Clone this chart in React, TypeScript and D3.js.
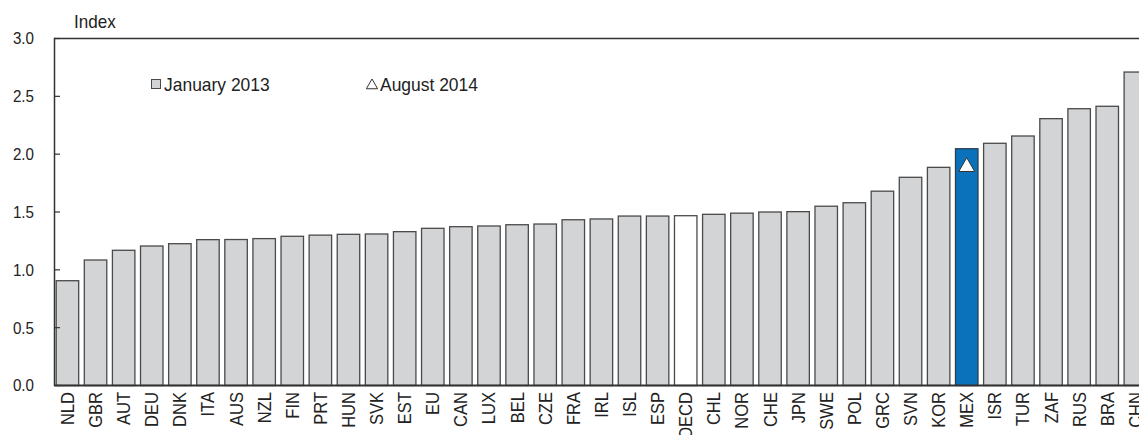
import React from "react";
import * as d3 from "d3";

const categories = ["NLD","GBR","AUT","DEU","DNK","ITA","AUS","NZL","FIN","PRT","HUN","SVK","EST","EU","CAN","LUX","BEL","CZE","FRA","IRL","ISL","ESP","OECD","CHL","NOR","CHE","JPN","SWE","POL","GRC","SVN","KOR","MEX","ISR","TUR","ZAF","RUS","BRA","CHN"];
const jan2013 = [0.906,1.085,1.169,1.206,1.226,1.261,1.262,1.27,1.29,1.30,1.307,1.31,1.33,1.359,1.373,1.379,1.39,1.396,1.433,1.44,1.465,1.465,1.468,1.48,1.49,1.50,1.503,1.55,1.58,1.68,1.80,1.886,2.047,2.094,2.157,2.307,2.393,2.414,2.71];
const aug2014Cats = ["MEX"];
const aug2014 = [1.89];
const yTicks = [0, 0.5, 1.0, 1.5, 2.0, 2.5, 3.0];
const highlight = "MEX";
const average = "OECD";

const W = 1139, H = 435;
const FONT = "'Liberation Sans', Arial, Helvetica, sans-serif";

export default function App() {
  const x = d3.scaleBand<string>().domain(categories).range([54.8, 1148]).paddingInner(0.2).paddingOuter(0.05);
  const y = d3.scaleLinear().domain([0, 3]).range([385.5, 38.5]);
  const left = 54.5;
  const tri = d3.symbol().type(d3.symbolTriangle);

  return (
    <div style={{ position: "absolute", left: 0, top: 0 }}>
      <svg width={W} height={H} style={{ display: "block", fontFamily: FONT }}>
        <rect width={W} height={H} fill="#fff" />
        {/* bars */}
        {categories.map((c, i) => {
          const fill = c === highlight ? "#0a72ba" : c === average ? "#ffffff" : "#d3d4d6";
          const stroke = c === highlight ? "#2b3f55" : "#4a4a4a";
          return (
            <rect key={c} x={x(c)!} y={y(jan2013[i])} width={x.bandwidth()} height={y(0) - y(jan2013[i])}
              fill={fill} stroke={stroke} strokeWidth={1.3} />
          );
        })}
        {/* Aug 2014 markers */}
        {aug2014Cats.map((c, i) => (
          <path key={c} d={tri.size(110)()!} transform={`translate(${x(c)! + x.bandwidth() / 2},${y(aug2014[i])})`}
            fill="#fff" stroke="#333" strokeWidth={1} />
        ))}
        {/* axes */}
        <line x1={left} x2={W} y1={y(3)} y2={y(3)} stroke="#333" strokeWidth={1.5} />
        <line x1={left} x2={left} y1={y(3) - 0.75} y2={y(0) + 0.75} stroke="#333" strokeWidth={1.5} />
        <line x1={left} x2={W} y1={y(0)} y2={y(0)} stroke="#333" strokeWidth={1.8} />
        {yTicks.map((t) => (
          <g key={t}>
            <line x1={left} x2={left + 5.5} y1={y(t)} y2={y(t)} stroke="#333" strokeWidth={1.2} />
            <text transform={`translate(34,${y(t)}) scale(0.92,1)`} dy="0.36em" textAnchor="end" fontSize={16.5} fill="#222">{t.toFixed(1)}</text>
          </g>
        ))}
        <text transform="translate(74,28) scale(0.95,1)" fontSize={18} fill="#222">Index</text>
        {/* category labels */}
        {categories.map((c) => (
          <text key={c} transform={`translate(${x(c)! + x.bandwidth() / 2},392) rotate(-90) scale(0.92,1)`} dy="0.36em"
            textAnchor="end" fontSize={18} fill="#222">{c}</text>
        ))}
        {/* legend */}
        <rect x={151.5} y={79.5} width={9} height={9} fill="#d3d4d6" stroke="#4a4a4a" strokeWidth={1} />
        <text transform="translate(164,91) scale(0.97,1)" fontSize={18} fill="#222">January 2013</text>
        <path d={tri.size(55)()!} transform="translate(372,85.5)" fill="#fff" stroke="#333" strokeWidth={1} />
        <text transform="translate(380,91) scale(0.97,1)" fontSize={18} fill="#222">August 2014</text>
      </svg>
    </div>
  );
}
